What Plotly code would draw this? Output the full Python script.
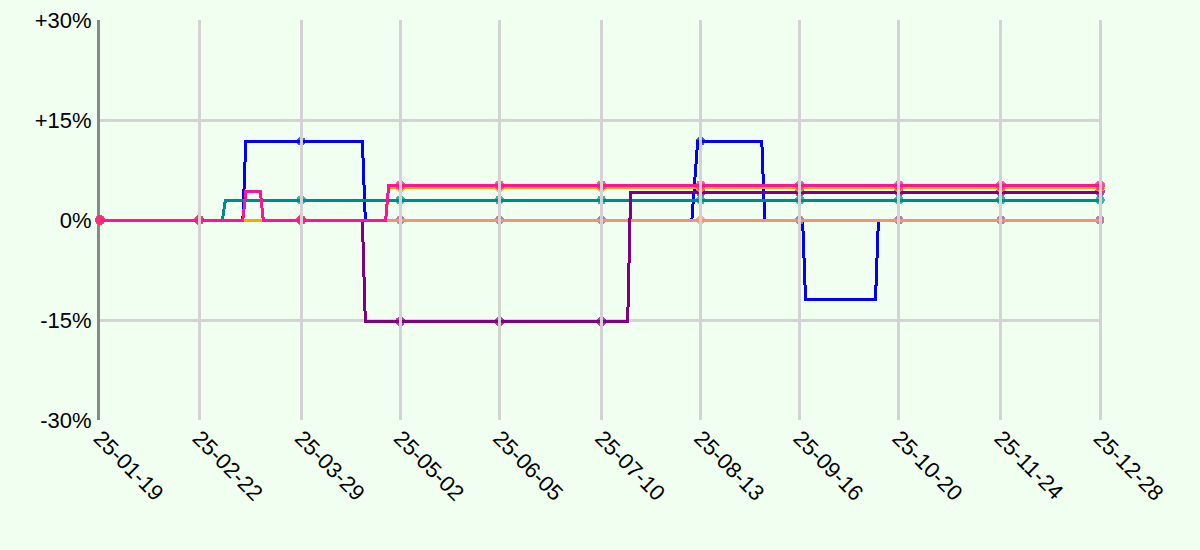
import plotly.graph_objects as go

# x axis ticks (dates) and y axis ticks (percent)
tick_dates = ["2025-01-19", "2025-02-22", "2025-03-29", "2025-05-02", "2025-06-05",
              "2025-07-10", "2025-08-13", "2025-09-16", "2025-10-20", "2025-11-24",
              "2025-12-28"]
y_ticks = [-30, -15, 0, 15, 30]
y_labels = ["-30%", "-15%", "0%", "+15%", "+30%"]

# series: dates where the value changes, plus the tick dates
blue_dates = ["2025-01-19", "2025-02-22", "2025-03-09", "2025-03-10", "2025-03-29",
              "2025-04-19", "2025-04-20", "2025-05-02", "2025-06-05", "2025-07-10",
              "2025-08-10", "2025-08-12", "2025-08-13", "2025-09-03", "2025-09-04",
              "2025-09-16", "2025-09-17", "2025-09-18", "2025-10-12", "2025-10-13",
              "2025-10-20", "2025-11-24", "2025-12-28"]
blue_values = [0, 0, 0, 11.8, 11.8,
               11.8, 0, 0, 0, 0,
               0, 11.8, 11.8, 11.8, 0,
               0, 0, -11.9, -11.9, 0,
               0, 0, 0]

salmon_dates = tick_dates
salmon_values = [0, 0, 0, 0, 0, 0, 0, 0, 0, 0, 0]

teal_dates = ["2025-01-19", "2025-02-22", "2025-03-02", "2025-03-03", "2025-03-29",
              "2025-05-02", "2025-06-05", "2025-07-10", "2025-08-13", "2025-09-16",
              "2025-10-20", "2025-11-24", "2025-12-28"]
teal_values = [0, 0, 0, 3.0, 3.0,
               3.0, 3.0, 3.0, 3.0, 3.0,
               3.0, 3.0, 3.0]

purple_dates = ["2025-01-19", "2025-02-22", "2025-03-29", "2025-04-19", "2025-04-20",
                "2025-05-02", "2025-06-05", "2025-07-10", "2025-07-19", "2025-07-20",
                "2025-08-13", "2025-09-16", "2025-10-20", "2025-11-24", "2025-12-28"]
purple_values = [0, 0, 0, 0, -15.2,
                 -15.2, -15.2, -15.2, -15.2, 4.2,
                 4.2, 4.2, 4.2, 4.2, 4.2]

orange_dates = ["2025-01-19", "2025-02-22", "2025-03-29", "2025-04-27", "2025-04-28",
                "2025-05-02", "2025-06-05", "2025-07-10", "2025-08-13", "2025-09-16",
                "2025-10-20", "2025-11-24", "2025-12-28"]
orange_values = [0, 0, 0, 0, 4.9,
                 4.9, 4.9, 4.9, 4.9, 4.9,
                 4.9, 4.9, 4.9]

pink_dates = ["2025-01-19", "2025-02-22", "2025-03-09", "2025-03-10", "2025-03-15",
              "2025-03-16", "2025-03-29", "2025-04-27", "2025-04-28", "2025-05-02",
              "2025-06-05", "2025-07-10", "2025-08-13", "2025-09-16", "2025-10-20",
              "2025-11-24", "2025-12-28"]
pink_values = [0, 0, 0, 4.3, 4.3,
               0, 0, 0, 5.2, 5.2,
               5.2, 5.2, 5.2, 5.2, 5.2,
               5.2, 5.2]

# drawing order: first is at the bottom
series = [
    ("#0000ff", blue_dates, blue_values),
    ("#e9967a", salmon_dates, salmon_values),
    ("#008b8b", teal_dates, teal_values),
    ("#800080", purple_dates, purple_values),
    ("#ffa500", orange_dates, orange_values),
    ("#ff1493", pink_dates, pink_values),
]

GRID = "#d3d3d3"
BG = "#f0fff0"

fig = go.Figure()
for i, (color, dates, values) in enumerate(series):
    # dots only at the tick dates; upper layers a touch bigger so they hide
    # the ones below cleanly
    dot = 9 + 0.2 * i
    sizes = [dot if d in tick_dates else 0 for d in dates]
    fig.add_trace(go.Scatter(
        x=dates, y=values,
        mode="lines+markers",
        line=dict(color=color, width=3),
        marker=dict(color=color, size=sizes, line=dict(width=0)),
        cliponaxis=False,
        hovertemplate="%{x|%y-%m-%d}: %{y:+.1f}%<extra></extra>",
        showlegend=False,
    ))

# vertical grid lines sit on top of the lines in the original;
# the last one is the right border, put on the plot domain so it is not clipped
for d in tick_dates[1:-1]:
    fig.add_shape(type="line", xref="x", yref="paper", x0=d, x1=d, y0=0, y1=1,
                  line=dict(color=GRID, width=3), layer="above")
fig.add_shape(type="line", xref="paper", yref="paper", x0=1, x1=1, y0=0, y1=1,
              line=dict(color=GRID, width=3), layer="above")

fig.update_layout(
    width=1200, height=550,
    margin=dict(l=100, r=100, t=20, b=130),
    paper_bgcolor=BG,
    plot_bgcolor=BG,
    font=dict(family="Liberation Sans, Arial, sans-serif", size=22, color="black"),
    xaxis=dict(
        range=[tick_dates[0], tick_dates[-1]],
        tickvals=tick_dates,
        tickformat="%y-%m-%d",
        tickangle=45,
        showgrid=False,
        zeroline=False,
        ticks="",
        automargin=False,
    ),
    yaxis=dict(
        range=[-30, 30],
        tickvals=y_ticks,
        ticktext=y_labels,
        showgrid=True,
        gridcolor=GRID,
        gridwidth=3,
        zeroline=False,
        showline=True,
        linecolor="#888888",
        linewidth=3,
        layer="below traces",
        ticks="",
        ticklabelstandoff=1,
        automargin=False,
    ),
)

# no page margin, and crisp (non-antialiased) lines like the original
page_js = (
    "document.body.style.margin='0';"
    "document.body.style.overflow='hidden';"
    "var st=document.createElement('style');"
    "st.textContent='.scatterlayer path,.layer-above path{shape-rendering:crispEdges}';"
    "document.head.appendChild(st);"
)
fig.write_html("out.html", config={"displayModeBar": False}, post_script=page_js)
